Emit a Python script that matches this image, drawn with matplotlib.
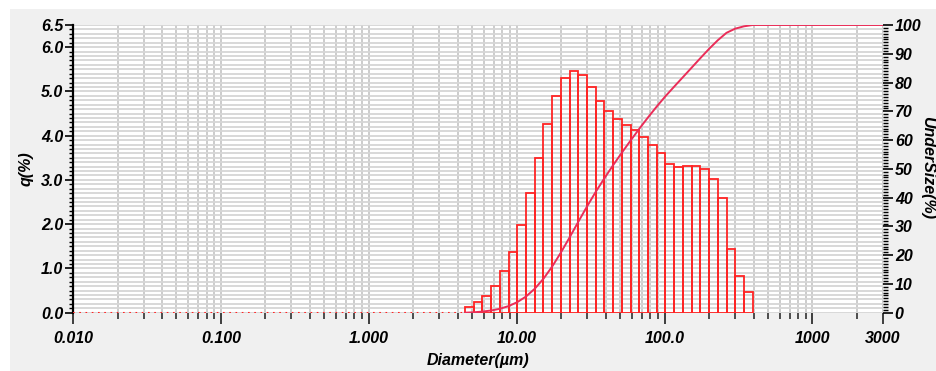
"""
Particle size distribution: frequency histogram q(%) with cumulative undersize curve.
"""
import numpy as np
import matplotlib
matplotlib.use("Agg")
import matplotlib.pyplot as plt
from matplotlib.patches import Rectangle
from matplotlib.ticker import FixedLocator, NullFormatter, MultipleLocator, FormatStrFormatter

# channel edges (um) of the non-empty part of the distribution
edges = [4.472, 5.122, 5.867, 6.720, 7.697, 8.816, 10.097, 11.565, 13.246, 15.172,
         17.377, 19.904, 22.797, 26.111, 29.907, 34.255, 39.234, 44.938, 51.471,
         58.953, 67.523, 77.339, 88.583, 101.46, 116.21, 133.10, 152.45, 174.61,
         200.00, 229.07, 262.37, 300.52, 344.21, 394.24]
# frequency per channel (%)
q_vals = [0.14, 0.25, 0.38, 0.60, 0.94, 1.37, 1.98, 2.70, 3.50, 4.26, 4.89,
          5.30, 5.46, 5.36, 5.11, 4.78, 4.56, 4.37, 4.23, 4.13, 3.96, 3.80,
          3.60, 3.35, 3.30, 3.32, 3.32, 3.25, 3.01, 2.60, 1.45, 0.82, 0.46]

x_ticks = [0.01, 0.1, 1, 10, 100, 1000, 3000]
x_labels = ["0.010", "0.100", "1.000", "10.00", "100.0", "1000", "3000"]
q_ticks = [0, 1, 2, 3, 4, 5, 6, 6.5]
u_ticks = list(range(0, 101, 10))

XMIN, XMAX = 0.01, 3000
QMAX = 6.5

BAR_RED = "#FF2424"
CURVE_RED = "#EA2D58"
FONT = "Liberation Sans"
FS = 11.5

plt.rcParams["font.family"] = [FONT, "DejaVu Sans"]

fig = plt.figure(figsize=(9.36, 3.71), dpi=100)
fig.patch.set_facecolor("white")
fig.patches.append(Rectangle((10 / 936, 0), 1, 1 - 9 / 371, transform=fig.transFigure,
                             facecolor="#F0F0F0", edgecolor="none", zorder=-10))

ax = fig.add_axes([73 / 936, 1 - 312.7 / 371, 810 / 936, 287.7 / 371])
ax.set_facecolor("white")
ax.set_xscale("log")
ax.set_xlim(XMIN, XMAX)
ax.set_ylim(0, QMAX)

# histogram bars (outline only)
e = np.array(edges)
ax.bar(e[:-1], q_vals, width=np.diff(e), align="edge", fill=False,
       edgecolor=BAR_RED, linewidth=1.3, zorder=3)
# empty channels shown as dotted baseline
ax.hlines(0, XMIN, edges[0], colors=BAR_RED, linewidth=1.5,
          linestyles=(0, (0.8, 2.2)), zorder=3)

# ticks and grid, x axis
minor_x = [m * 10.0 ** d for d in range(-2, 4) for m in range(2, 10)
           if m * 10.0 ** d < XMAX]
ax.xaxis.set_major_locator(FixedLocator(x_ticks))
ax.xaxis.set_minor_locator(FixedLocator(minor_x))
ax.set_xticklabels(x_labels)
ax.xaxis.set_minor_formatter(NullFormatter())
ax.tick_params(axis="x", which="major", length=8, width=1.2, color="#202020", pad=5)
ax.tick_params(axis="x", which="minor", length=4.5, width=1.1, color="#202020")

# ticks and grid, left axis
ax.yaxis.set_major_locator(FixedLocator(q_ticks))
ax.yaxis.set_minor_locator(MultipleLocator(0.1))
ax.yaxis.set_major_formatter(FormatStrFormatter("%.1f"))
ax.tick_params(axis="y", which="major", length=6, width=1.2, color="black", pad=1)
ax.tick_params(axis="y", which="minor", length=3, width=1.0, color="black")

ax.grid(True, axis="x", which="both", color="#C4C4C4", linewidth=1.2, zorder=0)
ax.grid(True, axis="y", which="both", color="#D6D6D6", linewidth=1.3, zorder=0)
ax.set_axisbelow(True)

for side in ("top", "right", "bottom"):
    ax.spines[side].set_visible(False)
ax.spines["left"].set_linewidth(1.6)

for lab in ax.get_xticklabels() + ax.get_yticklabels():
    lab.set_fontsize(FS)
    lab.set_fontweight("bold")
    lab.set_fontstyle("italic")

# cumulative undersize curve on the right axis
ax2 = ax.twinx()
ax2.set_ylim(0, 100)
cum = np.concatenate([[0], np.cumsum(q_vals)]) / np.sum(q_vals) * 100
ax2.plot(np.append(e, XMAX), np.append(cum, 100), color=CURVE_RED,
         linewidth=1.4, zorder=4)
ax2.yaxis.set_major_locator(FixedLocator(u_ticks))
ax2.yaxis.set_minor_locator(MultipleLocator(1))
ax2.tick_params(axis="y", which="major", length=7.5, width=1.2, color="black", pad=1)
ax2.tick_params(axis="y", which="minor", length=3.5, width=1.0, color="black")
for side in ("top", "right", "bottom", "left"):
    ax2.spines[side].set_visible(False)
for lab in ax2.get_yticklabels():
    lab.set_fontsize(FS)
    lab.set_fontweight("bold")
    lab.set_fontstyle("italic")

txt = dict(fontsize=FS, fontweight="bold", fontstyle="italic", color="black")
fig.text(26 / 936, 1 - 169 / 371, "q(%)", rotation=90, ha="center", va="center", **txt)
fig.text(928 / 936, 1 - 168 / 371, "UnderSize(%)", rotation=270, ha="center",
         va="center", **txt)
fig.text(478 / 936, 1 - 360 / 371, "Diameter(µm)", ha="center", va="center", **txt)

plt.savefig("out.png", dpi=100)
plt.close()
